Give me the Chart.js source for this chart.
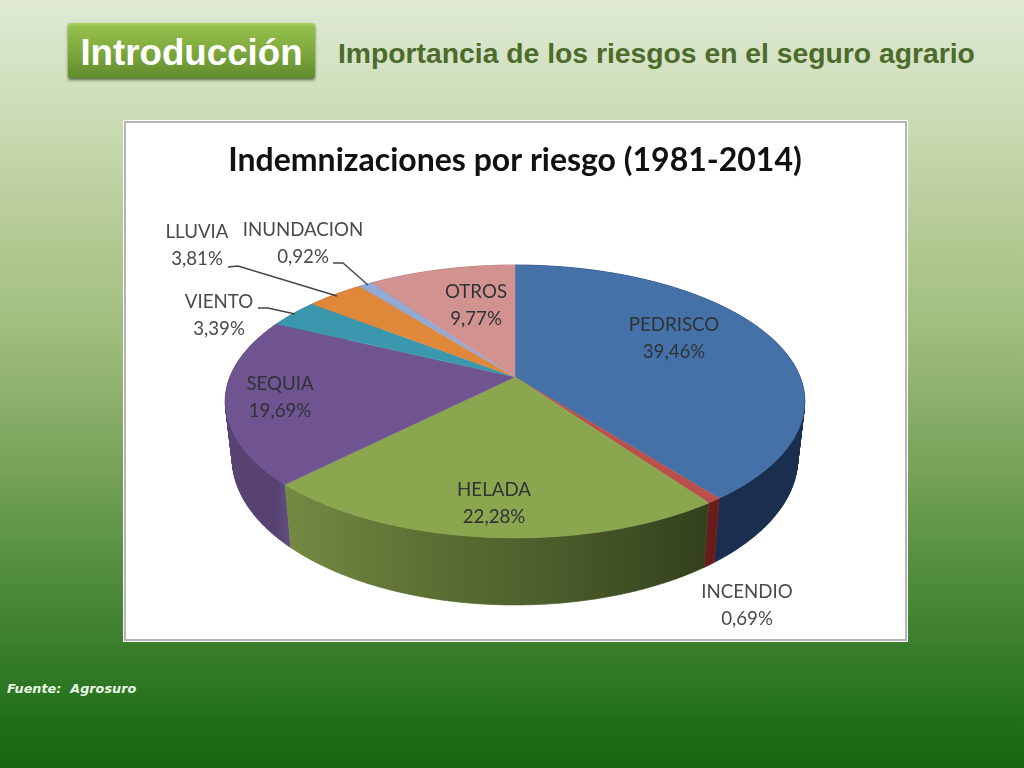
<!DOCTYPE html>
<html lang="es"><head><meta charset="utf-8"><title>Indemnizaciones por riesgo</title>
<script src="https://cdn.jsdelivr.net/npm/chart.js@4"></script>
<style>
html,body{margin:0;padding:0}
body{width:1024px;height:768px;position:relative;overflow:hidden;font-family:"Liberation Sans",Arial,sans-serif;
background:linear-gradient(180deg,#e0ead5 0,#cddcb6 110px,#b7cc98 220px,#9dbc7a 340px,#7aa45c 460px,#55903f 560px,#3c7f2e 640px,#20701a 720px,#186612 768px)}
#btn{position:absolute;left:68px;top:23px;width:247px;height:55px;box-sizing:border-box;border-radius:2px;
background:linear-gradient(180deg,#b0d262 0,#94bf4c 8%,#7fa93e 50%,#618c2c 100%);box-shadow:0 2px 3px rgba(40,60,20,.7);
color:#fff;font:bold 36.7px "Liberation Sans",Arial,sans-serif;line-height:59px;text-align:center;white-space:nowrap}
#sub{position:absolute;left:338px;top:37px;color:#4c6b2c;font:bold 28.3px "Liberation Sans",Arial,sans-serif;line-height:32px;white-space:nowrap}
#panel{position:absolute;left:124px;top:121px;width:783px;height:520px;box-sizing:border-box;background:#fff;border:2px solid #b4b4b4;outline:1px solid #fff}
#src{position:absolute;left:7px;top:682px;color:#e9f6e4;font:italic bold 12.8px "DejaVu Sans",sans-serif;line-height:14px;white-space:pre}
canvas{position:absolute;left:0;top:0}
</style></head><body>
<div id="btn">Introducción</div>
<div id="sub">Importancia de los riesgos en el seguro agrario</div>
<div id="panel"></div>
<div id="src">Fuente:  Agrosuro</div>
<canvas id="c" width="1024" height="768"></canvas>
<script>
const categories=["PEDRISCO","INCENDIO","HELADA","SEQUIA","VIENTO","LLUVIA","INUNDACION","OTROS"];
const values=[39.46,0.69,22.28,19.69,3.39,3.81,0.92,9.77];
const valueLabels=["39,46%","0,69%","22,28%","19,69%","3,39%","3,81%","0,92%","9,77%"];
const chartTitle="Indemnizaciones por riesgo (1981-2014)";
const faceColors=["#4471a8","#b9504c","#8aa64e","#705492","#3a97ae","#e0883a","#93aad4","#d19290"];
const wallColors=[["#1a2f50","#1a2f50"],["#6a1c1a","#6a1c1a"],["#32401c","#4a5a2a","#5d7034","#748a42"],["#5f4a7e","#574272"],["#2b7080","#2b7080"],["#a0602a","#a0602a"],["#6a7ba0","#6a7ba0"],["#9a6a68","#9a6a68"]];
const labelCenters=[[674,325],[747,592],[494,490],[280,384],[219,302],[197,232],[303,230],[476,292]];
const leaders={4:[[258,308],[268,308],[295,314]],5:[[228,267],[238,266],[337,296]],6:[[333,263],[343,263],[368,285]]};

const APEX_Y=377,TILT=-0.1795,SCALE_Y=64.4,RADIUS=285,DEPTH=55,BOTTOM_X=0.976;
function rim(cx,a){const u=Math.cos(a),v=Math.sin(a),w=1+TILT*v;return {x:cx+RADIUS*u/w,y:(SCALE_Y*v+APEX_Y)/w,d:DEPTH/w}}
function area(q){let t=0;q.forEach((p,i)=>{const r=q[(i+1)%q.length];t+=p[0]*r[1]-r[0]*p[1]});return t}

const pie3d={id:"pie3d",
 beforeDatasetsDraw(chart){
  const ctx=chart.ctx,arcs=chart.getDatasetMeta(0).data,STEP=Math.PI/360;
  ctx.save();
  const order=arcs.map((_,i)=>i).sort((p,q)=>Math.sin((arcs[p].startAngle+arcs[p].endAngle)/2)-Math.sin((arcs[q].startAngle+arcs[q].endAngle)/2));
  order.forEach(i=>{
    const arc=arcs[i],s=arc.startAngle,e=arc.endAngle,n=Math.max(2,Math.ceil((e-s)/STEP)),cx=arc.x;
    const top=[];for(let k=0;k<=n;k++)top.push(rim(cx,s+(e-s)*k/n));
    const g=ctx.createLinearGradient(top[0].x,0,top[n].x,0);
    wallColors[i].forEach((c,k,l)=>g.addColorStop(k/(l.length-1),c));
    ctx.beginPath();
    for(let k=0;k<n;k++){
      const p=top[k],r=top[k+1];
      let quad=[[p.x,p.y],[r.x,r.y],[cx+(r.x-cx)*BOTTOM_X,r.y+r.d],[cx+(p.x-cx)*BOTTOM_X,p.y+p.d]];
      if(area(quad)<0)quad=quad.reverse();
      quad.forEach((c,j)=>j?ctx.lineTo(c[0],c[1]):ctx.moveTo(c[0],c[1]));
      ctx.closePath();
    }
    ctx.fillStyle=g;ctx.strokeStyle=g;ctx.lineWidth=.6;ctx.fill("nonzero");ctx.stroke();
  });
  arcs.forEach((arc,i)=>{
    const s=arc.startAngle,e=arc.endAngle,n=Math.max(2,Math.ceil((e-s)/STEP));
    ctx.beginPath();ctx.moveTo(arc.x,APEX_Y);
    for(let k=0;k<=n;k++){const p=rim(arc.x,s+(e-s)*k/n);ctx.lineTo(p.x,p.y)}
    ctx.closePath();ctx.fillStyle=faceColors[i];ctx.strokeStyle=faceColors[i];ctx.lineWidth=.4;ctx.fill();ctx.stroke();
  });
  ctx.strokeStyle="#454545";ctx.lineWidth=1.4;
  Object.values(leaders).forEach(pts=>{ctx.beginPath();pts.forEach((p,k)=>k?ctx.lineTo(p[0],p[1]):ctx.moveTo(p[0],p[1]));ctx.stroke()});
  ctx.font='18.7px Lato,sans-serif';ctx.textAlign="center";ctx.textBaseline="middle";
  categories.forEach((c,i)=>{
    const [x,y]=labelCenters[i];
    ctx.fillStyle=(i===4||i===5||i===6||i===1)?"#4a4a4a":"#2f3336";
    ctx.fillText(c,x,y);ctx.fillText(valueLabels[i],x,y+26.5);
  });
  ctx.restore();
  return false;
 }
};
new Chart(document.getElementById("c"),{type:"pie",
 data:{labels:categories,datasets:[{data:values,backgroundColor:faceColors,borderWidth:0}]},
 options:{responsive:false,animation:false,events:[],layout:{padding:{left:6}},
  plugins:{legend:{display:false},tooltip:{enabled:false},
   title:{display:true,text:chartTitle,color:"#111",font:{family:"Lato",size:32,weight:"bold"},padding:{top:141,bottom:10}}}},
 plugins:[pie3d]});
</script>
</body></html>
